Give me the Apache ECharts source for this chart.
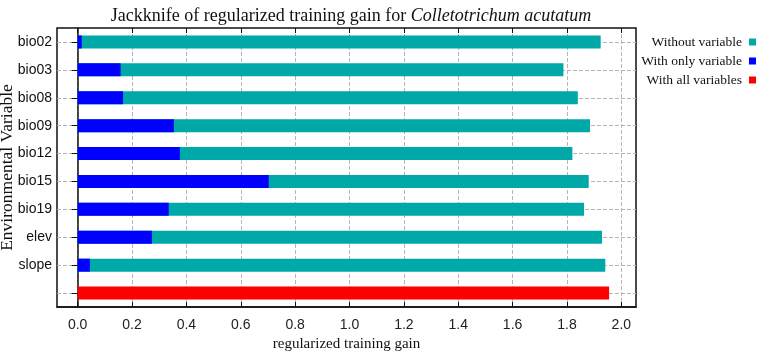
<!DOCTYPE html>
<html>
<head>
<meta charset="utf-8">
<script src="https://cdn.jsdelivr.net/npm/echarts@6/dist/echarts.min.js"></script>
<style>
    html, body { margin: 0; padding: 0; background: #fff; }
    #chart { width: 767px; height: 355px; }
</style>
</head>
<body>
<div id="chart"></div>
<script>
const categories = ["bio02", "bio03", "bio08", "bio09", "bio12", "bio15", "bio19", "elev", "slope", ""];
const withoutVariable = [1.924, 1.787, 1.840, 1.885, 1.820, 1.880, 1.863, 1.929, 1.941, null];
const withOnlyVariable = [0.015, 0.158, 0.167, 0.354, 0.376, 0.703, 0.335, 0.273, 0.045, null];
const withAllVariables = [null, null, null, null, null, null, null, null, null, 1.955];
const xTicks = [0, 0.2, 0.4, 0.6, 0.8, 1.0, 1.2, 1.4, 1.6, 1.8, 2.0];

const serif = "'Liberation Serif', 'DejaVu Serif', serif";
const sans = "'Liberation Sans', Arial, sans-serif";

const chart = echarts.init(document.getElementById("chart"));

const option = {
    animation: false,
    title: {
        text: "{a|Jackknife of regularized training gain for }{b|Colletotrichum acutatum}",
        left: 346,
        textAlign: "center",
        top: 2,
        textStyle: {
            rich: {
                a: { fontFamily: serif, fontSize: 18, fontWeight: "normal", color: "#111" },
                b: { fontFamily: serif, fontSize: 18, fontWeight: "normal", fontStyle: "italic", color: "#111" }
            }
        }
    },
    legend: {
        orient: "vertical",
        right: 6,
        top: 30,
        align: "right",
        itemGap: 5,
        itemWidth: 7,
        itemHeight: 7,
        icon: "rect",
        textStyle: { fontFamily: serif, fontSize: 13.5, color: "#111", padding: [0, 2, 0, 0] },
        data: ["Without variable", "With only variable", "With all variables"]
    },
    grid: {
        left: 57,
        right: 131,
        top: 28,
        bottom: 48,
        outerBoundsMode: "none",
        containLabel: false,
        show: true,
        borderColor: "#111",
        borderWidth: 1.5
    },
    xAxis: [
        {
            type: "value",
            min: -0.076,
            max: 2.054,
            position: "bottom",
            name: "regularized training gain",
            nameLocation: "middle",
            nameGap: 30,
            nameMoveOverlap: false,
            nameTextStyle: { fontFamily: serif, fontSize: 15, color: "#111" },
            axisLine: { show: true, lineStyle: { color: "#111", width: 1.5 } },
            axisTick: { show: true, inside: true, length: 5, customValues: xTicks, lineStyle: { color: "#111" } },
            axisLabel: {
                customValues: xTicks,
                margin: 11,
                fontFamily: sans,
                fontSize: 14,
                color: "#222",
                formatter: v => v.toFixed(1)
            },
            splitLine: { show: true, lineStyle: { color: "#b5b5b5", type: "dashed" } }
        },
        {
            type: "value",
            min: -0.076,
            max: 2.054,
            position: "top",
            axisLine: { show: false },
            axisTick: { show: true, inside: true, length: 5, customValues: xTicks, lineStyle: { color: "#111" } },
            axisLabel: { show: false, customValues: xTicks },
            splitLine: { show: false }
        }
    ],
    yAxis: [
        {
            type: "category",
            inverse: true,
            data: categories,
            name: "Environmental Variable",
            nameLocation: "middle",
            nameGap: 41,
            nameMoveOverlap: false,
            nameTextStyle: { fontFamily: serif, fontSize: 17.5, color: "#111" },
            axisLine: { show: true, lineStyle: { color: "#111", width: 1.5 } },
            axisTick: { show: true, inside: true, length: 6, alignWithLabel: true, lineStyle: { color: "#111" } },
            axisLabel: { fontFamily: sans, fontSize: 14, color: "#111", margin: 5 },
            splitLine: { show: true, alignWithLabel: true, lineStyle: { color: "#b5b5b5", type: "dashed" } }
        },
        {
            type: "category",
            inverse: true,
            data: categories,
            position: "right",
            axisLine: { show: false },
            axisTick: { show: true, inside: true, length: 6, alignWithLabel: true, lineStyle: { color: "#111" } },
            axisLabel: { show: false },
            splitLine: { show: false }
        }
    ],
    series: [
        {
            name: "Without variable",
            type: "bar",
            data: withoutVariable,
            barWidth: 13,
            barGap: "-100%",
            itemStyle: { color: "#00a8a8" }
        },
        {
            name: "With only variable",
            type: "bar",
            data: withOnlyVariable,
            barWidth: 13,
            barGap: "-100%",
            itemStyle: { color: "#0000ff" }
        },
        {
            name: "With all variables",
            type: "bar",
            data: withAllVariables,
            barWidth: 13,
            barGap: "-100%",
            itemStyle: { color: "#ff0000" }
        }
    ]
};

chart.setOption(option);
</script>
</body>
</html>
